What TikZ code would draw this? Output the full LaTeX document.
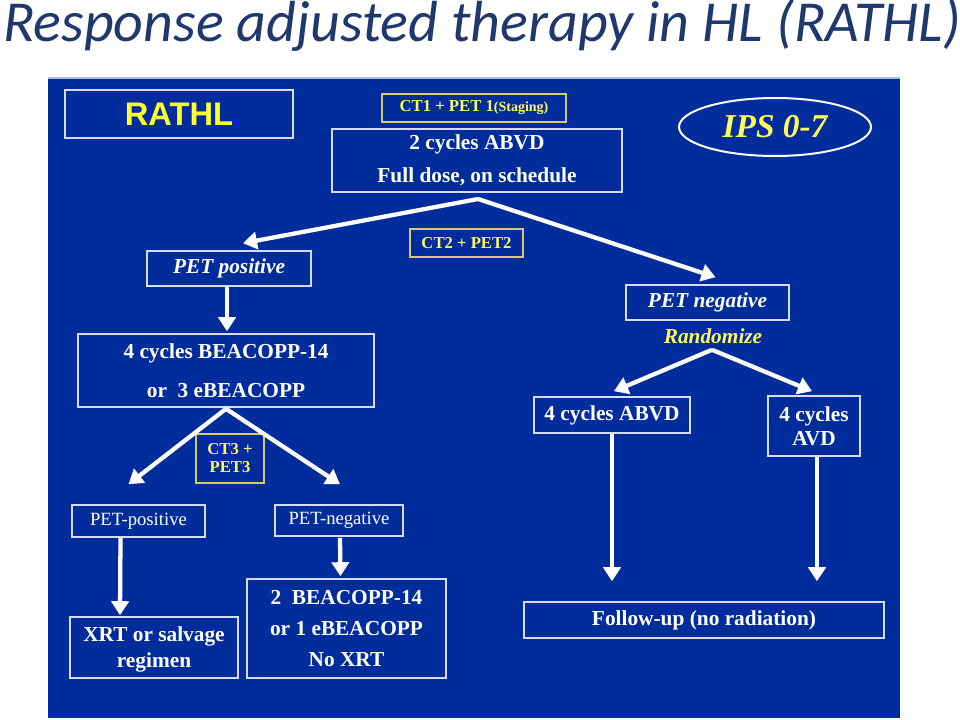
\documentclass[tikz,border=0pt]{standalone}
\usepackage{fontspec}
\setmainfont{Liberation Serif}
\newfontfamily\arialfont{Liberation Sans}
\newfontfamily\calibrifont{Carlito}
\usetikzlibrary{arrows.meta,shapes.geometric,calc}
\definecolor{slideblue}{RGB}{0,45,155}
\definecolor{titleblue}{RGB}{31,56,110}
\definecolor{boxline}{RGB}{215,220,245}
\definecolor{tagline}{RGB}{215,200,110}
\definecolor{tagtext}{RGB}{255,250,90}

\tikzset{
  box/.style={draw=boxline, line width=1.2pt, text=white, align=center,
    inner sep=0pt, font=\fontsize{16pt}{25pt}\selectfont\bfseries},
  tagbox/.style={draw=tagline, line width=1pt, text=tagtext, align=center,
    inner sep=0pt, font=\fontsize{12.5pt}{15pt}\selectfont\bfseries},
  flow/.style={draw=white, line width=3.2pt, -{Triangle[width=13pt,length=10.5pt]}}
}

\begin{document}
\begin{tikzpicture}[x=0.75pt, y=-0.75pt]
  \useasboundingbox (0,0) rectangle (960,720);
  \fill[slideblue] (48,78) rectangle (900,718);
  \draw[boxline!80!slideblue, line width=0.8pt] (48,78) -- (900,78);

  \node[anchor=base west, inner sep=0pt, text=titleblue,
    font=\calibrifont\itshape\fontsize{43.5pt}{50pt}\selectfont] (title) at (3,42)
    {Response adjusted therapy in HL (RATHL)};

  \node[box, minimum width=171pt, minimum height=36pt, text={rgb,255:red,255;green,255;blue,50},
    font=\arialfont\bfseries\fontsize{24.5pt}{28pt}\selectfont] (rathl) at (179,114) {RATHL};
  \node[tagbox, minimum width=138pt, minimum height=21pt] (ct1) at (474,108)
    {CT1 + PET 1{\fontsize{10.5pt}{12pt}\selectfont(Staging)}};
  \node[box, minimum width=217.5pt, minimum height=47.25pt] (abvd2) at (477,160.5)
    {2 cycles ABVD\\Full dose, on schedule};
  \node[draw=white, line width=1.5pt, ellipse, minimum width=144pt, minimum height=43.5pt,
    text=tagtext, font=\fontsize{25pt}{30pt}\selectfont\bfseries\itshape] (ips) at (775,127) {IPS 0-7};

  \coordinate (split1) at (478,199);
  \node[tagbox, minimum width=84.75pt, minimum height=21pt] (ct2) at (466.5,243) {CT2 + PET2};
  \node[box, minimum width=123pt, minimum height=26.25pt, font=\fontsize{16pt}{20pt}\selectfont\bfseries\itshape]
    (petpos) at (229,268.5) {PET positive};
  \node[box, minimum width=122.25pt, minimum height=26.25pt, font=\fontsize{16pt}{20pt}\selectfont\bfseries\itshape]
    (petneg) at (707.5,302.5) {PET negative};
  \node[text=tagtext, inner sep=0pt, font=\fontsize{16pt}{20pt}\selectfont\bfseries\itshape]
    (rand) at (713,336) {Randomize};

  \node[box, minimum width=222pt, minimum height=54.75pt, font=\fontsize{16pt}{29pt}\selectfont\bfseries]
    (beacopp4) at (226,370.5) {4 cycles BEACOPP-14\\or~ 3 eBEACOPP};
  \node[tagbox, minimum width=51pt, minimum height=36.75pt, font=\fontsize{12.5pt}{13.5pt}\selectfont\bfseries]
    (ct3) at (230,458.5) {CT3 +\\PET3};
  \node[box, minimum width=99.75pt, minimum height=24pt, font=\fontsize{14pt}{17pt}\selectfont]
    (petpos3) at (138.5,521) {PET-positive};
  \node[box, minimum width=96pt, minimum height=23.25pt, font=\fontsize{14pt}{17pt}\selectfont]
    (petneg3) at (339,520.5) {PET-negative};
  \node[box, minimum width=126pt, minimum height=45.75pt, font=\fontsize{16pt}{19.5pt}\selectfont\bfseries]
    (xrt) at (154,647.5) {\rule{0pt}{14pt}XRT or salvage\\regimen};
  \node[box, minimum width=149.25pt, minimum height=74.25pt, font=\fontsize{16pt}{23pt}\selectfont\bfseries]
    (beacopp2) at (346.5,628.5) {2~ BEACOPP-14\\or 1 eBEACOPP\\No XRT};

  \node[box, minimum width=117pt, minimum height=27pt] (abvd4) at (612,415) {4 cycles ABVD};
  \node[box, minimum width=69pt, minimum height=45pt, font=\fontsize{16pt}{18pt}\selectfont\bfseries]
    (avd4) at (814,426) {4 cycles\\AVD};
  \node[box, minimum width=270pt, minimum height=27pt] (followup) at (704,620) {Follow-up (no radiation)};

  \draw[flow] (split1) -- ($(petpos.north)+(14,-7)$);
  \draw[flow] (split1) -- ($(petneg.north)+(8,-7)$);
  \draw[flow] ($(petpos.south)+(-2,0)$) -- ($(beacopp4.north)+(1,-2)$);
  \draw[flow] ($(beacopp4.south)+(0,1)$) -- ($(petpos3.north)+(-10,-20)$);
  \draw[flow] ($(beacopp4.south)+(0,1)$) -- ($(petneg3.north)+(1,-20)$);
  \draw[flow] ($(petpos3.south)+(-18,0)$) -- ($(xrt.north)+(-34,-1)$);
  \draw[flow] ($(petneg3.south)+(1,1)$) -- ($(beacopp2.north)+(-6,-2)$);
  \draw[flow] ($(rand.south)+(-1,6)$) -- ($(abvd4.north)+(2,-5)$);
  \draw[flow] ($(rand.south)+(-1,6)$) -- ($(avd4.north)+(-2,-4)$);
  \draw[flow] (abvd4.south) -- ($(followup.north)+(-92,-20)$);
  \draw[flow] ($(avd4.south)+(3,0)$) -- ($(followup.north)+(113,-20)$);
\end{tikzpicture}
\end{document}
